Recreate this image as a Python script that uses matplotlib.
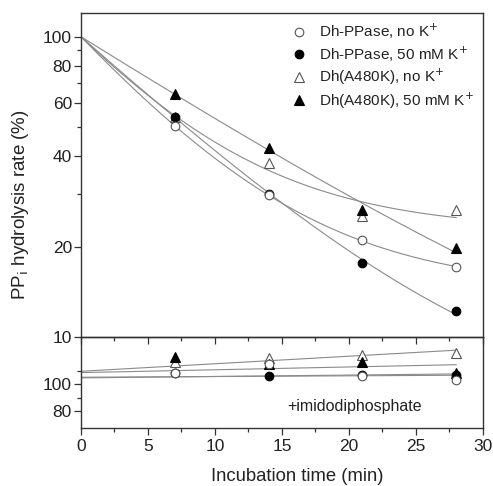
import numpy as np
import matplotlib
matplotlib.use("Agg")
import matplotlib.pyplot as plt
from matplotlib.lines import Line2D
from matplotlib.ticker import FixedLocator, NullFormatter, FixedFormatter

plt.rcParams["font.family"] = ["Liberation Sans", "DejaVu Sans"]

# Incubation times (min)
t = np.array([7, 14, 21, 28])

# Remaining PPi hydrolysis rate (%), no ligand (upper panel)
ppase_noK = [50.5, 29.6, 21.0, 17.1]
ppase_K = [54.2, 30.0, 17.7, 12.2]
a480k_noK = [54.0, 38.0, 25.2, 26.4]
a480k_K = [64.4, 42.6, 26.5, 19.8]

# + imidodiphosphate (lower panel)
imido_ppase_noK = [108.8, 115.5, 106.5, 103.7]
imido_ppase_K = [108.5, 106.2, 107.5, 107.5]
imido_a480k_noK = [117.0, 120.0, 122.5, 123.7]
imido_a480k_K = [121.0, 115.5, 116.7, 108.8]

# straight trend lines of the lower panel, values at t = 0 and t = 28
imido_line_t = [0, 28]
imido_lines = [[105.5, 107.0], [105.0, 108.0], [110.0, 126.0], [109.0, 115.0]]

labels = [r"Dh-PPase, no K$^{+}$", r"Dh-PPase, 50 mM K$^{+}$",
          r"Dh(A480K), no K$^{+}$", r"Dh(A480K), 50 mM K$^{+}$"]
styles = [dict(marker="o", mfc="white", mec="#555555", ms=6.2, mew=0.8),
          dict(marker="o", mfc="black", mec="black", ms=6.2, mew=0.8),
          dict(marker="^", mfc="white", mec="#555555", ms=7.2, mew=0.8),
          dict(marker="^", mfc="black", mec="black", ms=7.2, mew=0.8)]
zorders = [6, 3, 2.5, 5]
line_col = "#8a8a8a"


def fit_decay(tt, yy):
    # y = C + (100 - C) * exp(-k t), starting at 100 % at t = 0
    tt = np.asarray(tt, float)
    yy = np.asarray(yy, float)
    best = None
    for k in np.linspace(0.005, 0.6, 2000):
        e = np.exp(-k * tt)
        a = yy - 100 * e
        b = 1 - e
        c = np.sum(a * b) / np.sum(b * b)
        err = np.sum((c + (100 - c) * e - yy) ** 2)
        if best is None or err < best[0]:
            best = (err, k, c)
    return best[1], best[2]


fig = plt.figure(figsize=(4.93, 4.86), dpi=100)
ax1 = fig.add_axes([0.1643, 0.3066, 0.8154, 0.6667])
ax2 = fig.add_axes([0.1643, 0.1193, 0.8154, 0.1873])
ax2.patch.set_alpha(0)

tfit = np.linspace(0, 28, 200)
top_series = [ppase_noK, ppase_K, a480k_noK, a480k_K]
for ys, st, z in zip(top_series, styles, zorders):
    k, c = fit_decay(t, ys)
    ax1.plot(tfit, c + (100 - c) * np.exp(-k * tfit), color=line_col, lw=0.8, zorder=2)
    ax1.plot(t, ys, ls="none", zorder=z, **st)

ax1.set_yscale("log")
ax1.set_ylim(10, 120)
ax1.set_xlim(0, 30)
ax1.yaxis.set_major_locator(FixedLocator([10, 20, 40, 60, 80, 100]))
ax1.yaxis.set_major_formatter(FixedFormatter(["10", "20", "40", "60", "80", "100"]))
ax1.yaxis.set_minor_locator(FixedLocator([30, 50, 70, 90]))
ax1.yaxis.set_minor_formatter(NullFormatter())
ax1.xaxis.set_major_locator(FixedLocator(np.arange(0, 31, 5)))
ax1.xaxis.set_minor_locator(FixedLocator(np.arange(2.5, 30, 5)))
ax1.tick_params(axis="x", which="both", direction="out", labelbottom=False)

bottom_series = [imido_ppase_noK, imido_ppase_K, imido_a480k_noK, imido_a480k_K]
for yl in imido_lines:
    ax2.plot(imido_line_t, yl, color=line_col, lw=0.8, zorder=2)
for ys, st, z in zip(bottom_series, styles, zorders):
    ax2.plot(t, ys, ls="none", zorder=z, **st)
ax2.set_xlim(0, 30)
ax2.set_ylim(67, 136)
ax2.yaxis.set_major_locator(FixedLocator([80, 100]))
ax2.yaxis.set_minor_locator(FixedLocator([90, 110]))
ax2.yaxis.set_minor_formatter(NullFormatter())
ax2.xaxis.set_major_locator(FixedLocator(np.arange(0, 31, 5)))
ax2.xaxis.set_minor_locator(FixedLocator(np.arange(2.5, 30, 5)))
ax2.text(0.68, 0.235, "+imidodiphosphate", transform=ax2.transAxes,
         ha="center", va="center", fontsize=11.5, color="#222222")

for ax in (ax1, ax2):
    for sp in ax.spines.values():
        sp.set_color("#333333")
        sp.set_linewidth(1.0)
    ax.tick_params(which="major", length=5, width=0.9, color="#333333",
                   labelsize=12.5, labelcolor="#222222", pad=1.5)
    ax.tick_params(which="minor", length=3, width=0.9, color="#333333")
ax2.tick_params(axis="x", pad=3)

handles = [Line2D([], [], ls="none", **st) for st in styles]
ax1.legend(handles, labels, loc="upper right", frameon=False, fontsize=11,
           handletextpad=0.7, labelspacing=0.2, borderaxespad=0.2,
           handlelength=1.2, labelcolor="#222222")

fig.text(0.041, 0.578, r"PP$_\mathrm{i}$ hydrolysis rate (%)", rotation=90,
         ha="center", va="center", fontsize=13.5, color="#222222")
fig.text(0.603, 0.02, "Incubation time (min)", ha="center", va="center",
         fontsize=13.3, color="#222222")

fig.savefig("out.png", dpi=100)
